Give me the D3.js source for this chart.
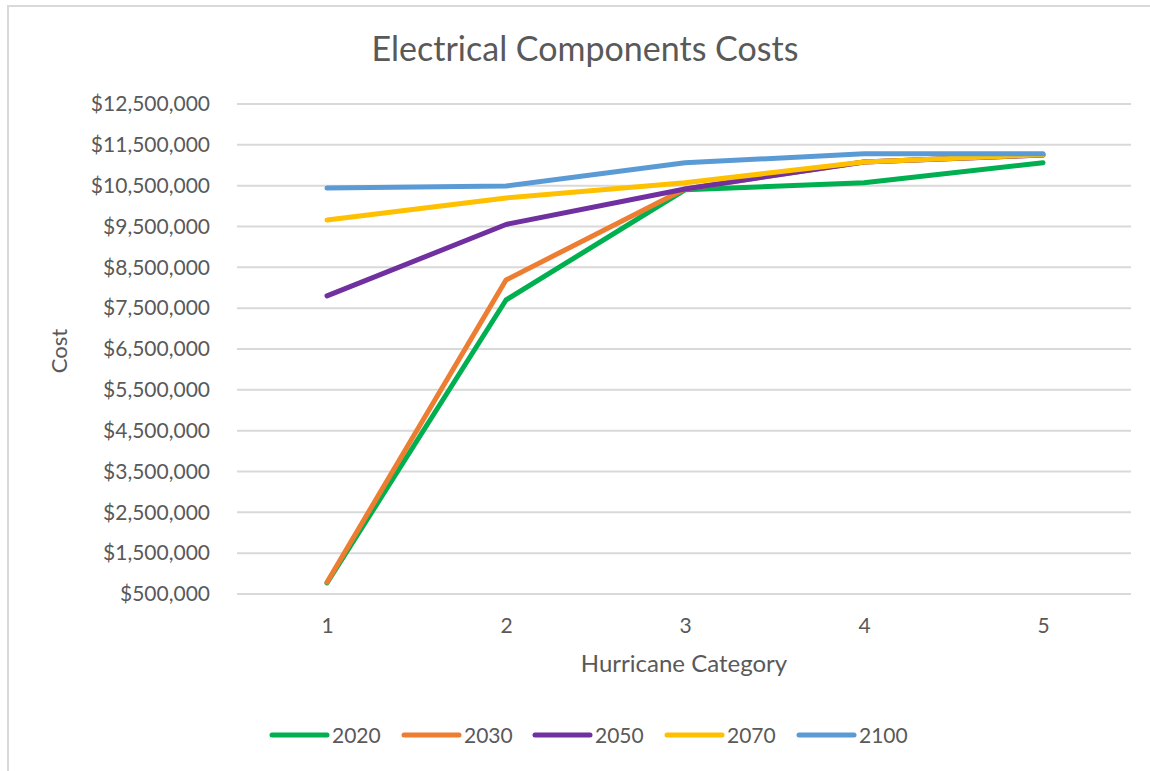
<!DOCTYPE html>
<html>
<head>
<meta charset="utf-8">
<script src="https://cdn.jsdelivr.net/npm/d3@7"></script>
<style>
  body { margin: 0; background: #fff; }
  svg { display: block; font-family: Lato, "Noto Sans", sans-serif; }
</style>
</head>
<body>
<svg id="chart" width="1150" height="771"></svg>
<script>
const categories = [1, 2, 3, 4, 5];
const seriesNames = ["2020", "2030", "2050", "2070", "2100"];
const colors = ["#00B050", "#ED7D31", "#7030A0", "#FFC000", "#5B9BD5"];
const values2020 = [770000, 7700000, 10400000, 10570000, 11060000];
const values2030 = [790000, 8190000, 10420000, 11080000, 11250000];
const values2050 = [7800000, 9550000, 10420000, 11080000, 11250000];
const values2070 = [9660000, 10200000, 10570000, 11080000, 11260000];
const values2100 = [10440000, 10490000, 11060000, 11280000, 11280000];
const yTicks = [500000, 1500000, 2500000, 3500000, 4500000, 5500000, 6500000,
  7500000, 8500000, 9500000, 10500000, 11500000, 12500000];
const title = "Electrical Components Costs";
const xTitle = "Hurricane Category";
const yTitle = "Cost";

const allSeries = [values2020, values2030, values2050, values2070, values2100];
const series = seriesNames.map((n, i) => ({ name: n, color: colors[i], values: allSeries[i] }));

const svg = d3.select("#chart");
const textColor = "#595959";
const gridColor = "#D9D9D9";
const font = "Lato, 'Noto Sans', sans-serif";

// outer border (partially cropped in reference)
svg.append("rect").attr("x", 8).attr("y", 6).attr("width", 1160).attr("height", 800)
  .attr("fill", "none").attr("stroke", "#D9D9D9").attr("stroke-width", 2);

const plot = { left: 237, right: 1131, top: 104, bottom: 594 };

const x = d3.scalePoint().domain(categories).range([327, 1043]);
const y = d3.scaleLinear().domain([500000, 12500000]).range([plot.bottom, plot.top]);

// gridlines
svg.append("g").selectAll("line").data(yTicks).join("line")
  .attr("x1", plot.left).attr("x2", plot.right)
  .attr("y1", d => y(d)).attr("y2", d => y(d))
  .attr("stroke", gridColor).attr("stroke-width", 2);

// y axis labels
const yAxis = d3.axisLeft(y).tickValues(yTicks).tickSize(0).tickPadding(0)
  .tickFormat(d => "$" + d3.format(",")(d));
const gy = svg.append("g").attr("transform", `translate(${210},0)`).call(yAxis);
gy.select(".domain").remove();
gy.selectAll("text").attr("fill", textColor).style("font-size", "21px")
  .style("font-family", font);

// x axis labels
const xAxis = d3.axisBottom(x).tickSize(0).tickPadding(0);
const gx = svg.append("g").attr("transform", `translate(0,${618})`).call(xAxis);
gx.select(".domain").remove();
gx.selectAll("text").attr("fill", textColor).style("font-size", "21px")
  .style("font-family", font);

// lines
const line = d3.line().x((d, i) => x(categories[i])).y(d => y(d));
svg.append("g").selectAll("path").data(series).join("path")
  .attr("d", d => line(d.values))
  .attr("fill", "none")
  .attr("stroke", d => d.color)
  .attr("stroke-width", 5)
  .attr("stroke-linecap", "round")
  .attr("stroke-linejoin", "round");

// title
svg.append("text").attr("x", 585).attr("y", 61).attr("text-anchor", "middle")
  .attr("fill", textColor).style("font-size", "34px").text(title);

// axis titles
svg.append("text").attr("x", 684).attr("y", 672).attr("text-anchor", "middle")
  .attr("fill", textColor).style("font-size", "24px").text(xTitle);
svg.append("text").attr("transform", "translate(67,351) rotate(-90)")
  .attr("text-anchor", "middle").attr("fill", textColor).style("font-size", "22px").text(yTitle);

// legend
const legendX = [272, 404, 535, 667, 799];
const lg = svg.append("g").selectAll("g").data(series).join("g")
  .attr("transform", (d, i) => `translate(${legendX[i]},735)`);
lg.append("line").attr("x1", 0).attr("x2", 55).attr("y1", 0).attr("y2", 0)
  .attr("stroke", d => d.color).attr("stroke-width", 5).attr("stroke-linecap", "round");
lg.append("text").attr("x", 60).attr("y", 8).attr("fill", textColor)
  .style("font-size", "21px").text(d => d.name);
</script>
</body>
</html>
